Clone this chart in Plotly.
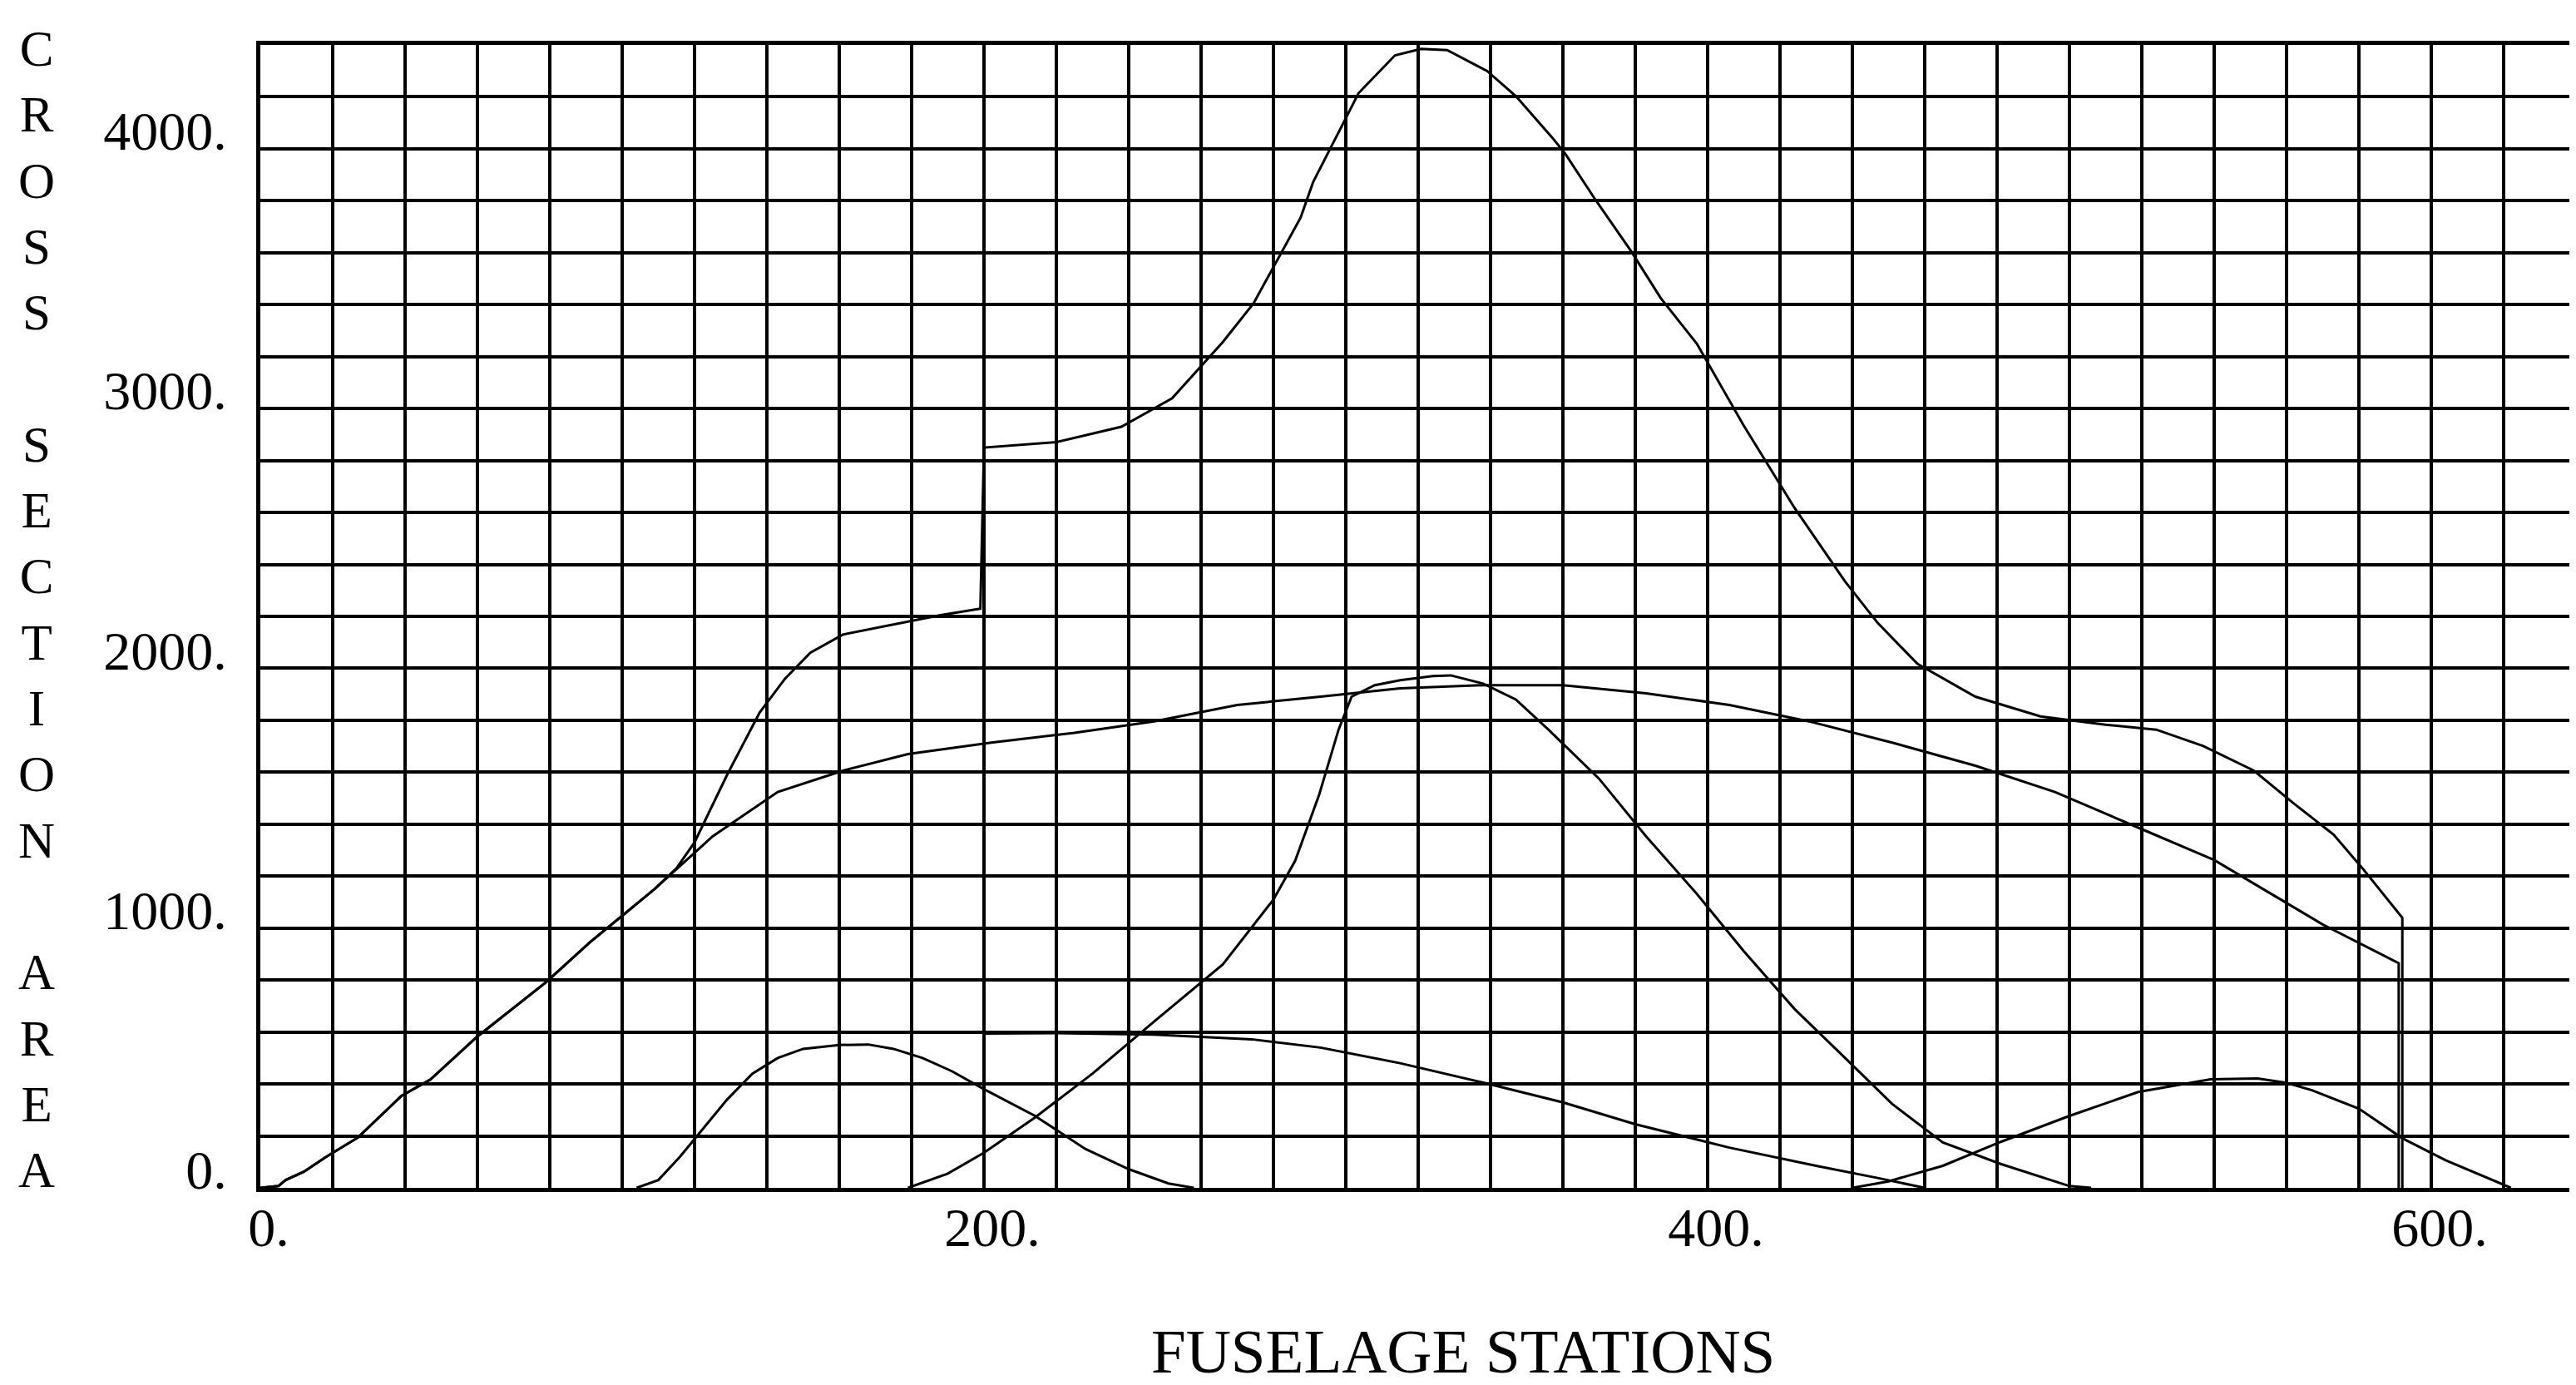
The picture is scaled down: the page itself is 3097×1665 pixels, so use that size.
import plotly.graph_objects as go

# ---- data ----
station_total = [0, 5, 7, 12, 18, 27, 39, 47, 60, 79, 91, 109, 115, 120, 129, 138, 145, 152,
                 161, 175, 188, 199, 200, 220, 238, 252, 266, 274.5, 280, 287.5, 291, 296, 300,
                 303.5, 313.6, 320.8, 328, 339, 347, 357, 360.7, 368.7, 378.8, 387, 397, 410,
                 424, 438, 447, 458, 474, 492, 510, 524, 537, 551, 562, 573, 581, 592, 592]
area_total = [0, 7, 30, 62, 118, 194, 354, 417, 583, 792, 944, 1151, 1230, 1330, 1590, 1830,
              1960, 2060, 2130, 2170, 2205, 2230, 2850, 2871, 2930, 3040, 3256, 3405, 3543,
              3735, 3873, 4012, 4118, 4214, 4360, 4385, 4380, 4300, 4203, 4044, 3980, 3810,
              3607, 3426, 3250, 2934, 2618, 2334, 2175, 2017, 1891, 1815, 1783, 1764, 1701,
              1606, 1480, 1360, 1230, 1040, 0]

station_body = [0, 5, 7, 12, 18, 27, 39, 47, 60, 79, 91, 109, 125, 143, 161, 179, 202, 225,
                247, 270, 293, 315, 338, 360, 383, 406, 428, 451, 474, 496, 522, 540, 570,
                591, 591]
area_body = [0, 7, 30, 62, 118, 194, 354, 417, 583, 792, 944, 1151, 1353, 1524, 1606, 1670,
             1714, 1752, 1796, 1859, 1891, 1923, 1935, 1935, 1904, 1859, 1796, 1714, 1625,
             1524, 1369, 1262, 1014, 865, 0]

station_wing = [179, 190, 200, 214, 230, 247, 266, 280, 286, 292.6, 298, 301.6, 308, 315, 324,
                329, 338, 347, 356, 370, 383, 397, 410, 424, 438, 451, 465, 481, 500, 506]
area_wing = [0, 55, 135, 270, 440, 640, 860, 1110, 1259, 1512, 1764, 1891, 1935, 1954, 1970,
             1973, 1941, 1880, 1764, 1575, 1353, 1132, 911, 689, 500, 323, 175, 92, 7, 0]

station_canopy = [104, 110, 116, 122, 129, 136, 143, 150, 160, 168, 175, 183, 191, 200, 214,
                  228, 240, 251, 258]
area_canopy = [0, 30, 120, 220, 340, 440, 500, 535, 550, 552, 535, 500, 450, 380, 278, 150,
               72, 17, 0]

station_inlet = [200, 200, 220, 247, 274, 293, 315, 338, 360, 380, 406, 430, 447, 460]
area_inlet = [0, 594, 596, 590, 572, 540, 480, 405, 329, 245, 155, 85, 38, 0]

station_tail = [440, 450, 465, 481, 500, 519, 539, 552, 560, 567, 580, 592, 604, 617, 622]
area_tail = [0, 25, 85, 177, 277, 369, 418, 421, 404, 376, 305, 191, 106, 28, 0]

x_tick_vals = [0, 200, 400, 600]
x_tick_text = ["0.", "200.", "400.", "600."]
y_tick_vals = [0, 1000, 2000, 3000, 4000]
y_tick_text = ["0.", "1000.", "2000.", "3000.", "4000."]

x_title = "FUSELAGE STATIONS"
y_title_words = ["CROSS", "SECTION", "AREA"]

# ---- figure ----
fig = go.Figure()
series = [
    (station_total, area_total),
    (station_body, area_body),
    (station_wing, area_wing),
    (station_canopy, area_canopy),
    (station_inlet, area_inlet),
    (station_tail, area_tail),
]
for xs, ys in series:
    fig.add_trace(go.Scatter(x=xs, y=ys, mode="lines",
                             line=dict(color="black", width=3),
                             showlegend=False, hoverinfo="skip"))

serif = "Liberation Serif, Times New Roman, serif"
fig.update_layout(
    width=3097, height=1665,
    margin=dict(l=305, r=3, t=46, b=245),
    paper_bgcolor="white", plot_bgcolor="white",
    font=dict(family=serif, color="black", size=66),
    showlegend=False,
)
fig.update_xaxes(
    range=[0, 640], tickmode="array", tickvals=x_tick_vals, ticktext=x_tick_text,
    showgrid=True, gridcolor="black", gridwidth=4,
    minor=dict(tickmode="linear", tick0=0, dtick=20, showgrid=True,
               gridcolor="black", gridwidth=4),
    showline=True, mirror=True, linecolor="black", linewidth=5,
    ticks="", zeroline=False, tickfont=dict(family=serif, size=66, color="black"),
    ticklabelstandoff=-14, ticklabelshift=10,
)
fig.update_yaxes(
    range=[0, 4400], tickmode="array", tickvals=y_tick_vals, ticktext=y_tick_text,
    showgrid=True, gridcolor="black", gridwidth=4,
    minor=dict(tickmode="linear", tick0=0, dtick=200, showgrid=True,
               gridcolor="black", gridwidth=4),
    showline=True, mirror=True, linecolor="black", linewidth=5,
    ticks="", zeroline=False, tickfont=dict(family=serif, size=66, color="black"),
    ticklabelstandoff=22, ticklabelshift=-22,
)

stacked = "<br>\u00a0<br>".join("<br>".join(list(w)) for w in y_title_words)
fig.add_annotation(text=stacked, xref="paper", yref="paper", x=0, y=0.506,
                   xanchor="center", yanchor="middle", xshift=-269, showarrow=False,
                   align="center", font=dict(family=serif, size=61, color="black"))
fig.add_annotation(text=x_title, xref="paper", yref="paper", x=0.5195, y=-0.143,
                   xanchor="center", yanchor="middle", showarrow=False,
                   font=dict(family=serif, size=75, color="black"))

fig.write_html("out.html", config={"displayModeBar": False})
